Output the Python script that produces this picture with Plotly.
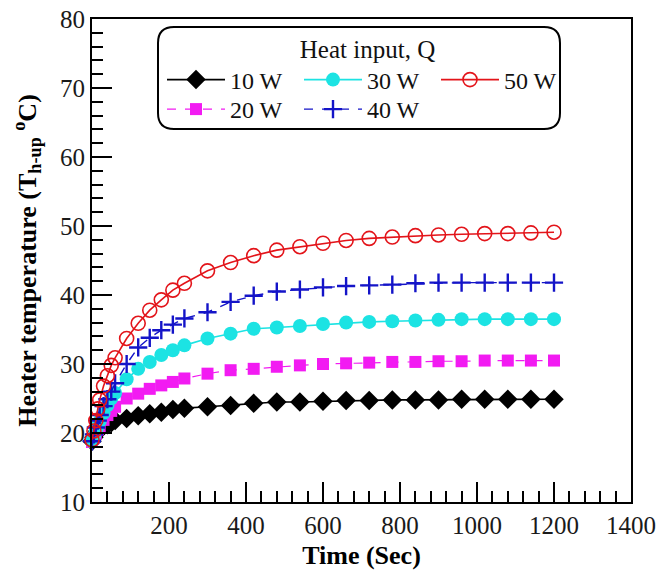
import plotly.graph_objects as go

time_s = [0, 5, 10, 15, 20, 30, 40, 50, 60, 90, 120, 150, 180, 210, 240, 300, 360, 420,
          480, 540, 600, 660, 720, 780, 840, 900, 960, 1020, 1080, 1140, 1200]

t_10w = [18.8, 19.4, 19.9, 20.3, 20.6, 21.0, 21.2, 21.5, 21.8, 22.1, 22.5, 22.8, 23.0, 23.4, 23.6, 23.8,
         24.0, 24.3, 24.5, 24.5, 24.6, 24.7, 24.7, 24.8, 24.8, 24.8, 24.9, 24.9, 24.9, 24.9, 24.9]
t_20w = [18.7, 19.3, 19.9, 20.5, 21.0, 21.9, 22.6, 23.2, 23.8, 25.0, 25.7, 26.4, 26.9, 27.4, 27.9, 28.6,
         29.1, 29.3, 29.6, 29.8, 30.0, 30.1, 30.2, 30.3, 30.3, 30.4, 30.4, 30.5, 30.5, 30.5, 30.5]
t_30w = [18.8, 19.5, 20.3, 21.0, 21.7, 22.9, 24.0, 25.0, 25.8, 27.8, 29.3, 30.3, 31.3, 32.0, 32.7, 33.7,
         34.4, 35.1, 35.3, 35.5, 35.8, 36.0, 36.1, 36.2, 36.3, 36.4, 36.5, 36.5, 36.5, 36.5, 36.5]
t_40w = [18.8, 19.8, 20.8, 21.8, 22.6, 23.9, 24.9, 26.0, 27.2, 30.0, 32.4, 33.8, 34.9, 35.7, 36.6, 37.5,
         39.0, 39.9, 40.5, 40.8, 41.1, 41.3, 41.4, 41.5, 41.7, 41.8, 41.8, 41.8, 41.8, 41.8, 41.8]
t_50w = [19.0, 20.3, 21.8, 23.5, 24.8, 26.8, 28.3, 29.8, 30.9, 33.7, 35.9, 37.8, 39.3, 40.7, 41.7, 43.5,
         44.7, 45.7, 46.5, 47.0, 47.5, 47.9, 48.2, 48.4, 48.6, 48.7, 48.8, 48.9, 48.9, 49.0, 49.1]

x_ticks = [200, 400, 600, 800, 1000, 1200, 1400]
y_ticks = [10, 20, 30, 40, 50, 60, 70, 80]

SERIF = "Liberation Serif, Times New Roman, serif"

series = [
    ("10 W", t_10w, dict(symbol="diamond", size=15, color="#000000"), dict(color="#000000", width=1.6, dash="solid"), "legend"),
    ("20 W", t_20w, dict(symbol="square", size=12, color="#F21BF2"), dict(color="#F21BF2", width=1.2, dash="dash"), "legend2"),
    ("30 W", t_30w, dict(symbol="circle", size=14, color="#1CE3E3"), dict(color="#1CE3E3", width=1.6, dash="solid"), "legend"),
    ("40 W", t_40w, dict(symbol="cross-thin-open", size=13, color="#1414C8", line=dict(width=2.4, color="#1414C8")), dict(color="#1414C8", width=1.4, dash="dash"), "legend2"),
    ("50 W", t_50w, dict(symbol="circle-open", size=14, color="#E3141A", line=dict(width=1.6, color="#E3141A")), dict(color="#E3141A", width=1.6, dash="solid"), "legend"),
]

fig = go.Figure()
for name, vals, mk, ln, lg in series:
    fig.add_trace(go.Scatter(x=time_s, y=vals, name=name, mode="lines+markers",
                             marker=mk, line=ln, legend=lg, cliponaxis=False))

W, H = 659, 578
ML, MR, MT, MB = 92, 28, 19, 76
PW, PH = W - ML - MR, H - MT - MB

def px2paper(px, py):
    return (px - ML) / PW, (H - MB - py) / PH

# rounded legend frame
x0, y1 = px2paper(158, 27)
x1, y0 = px2paper(560, 129)
rx, ry = 16 / PW, 16 / PH
path = (f"M{x0+rx},{y1} L{x1-rx},{y1} Q{x1},{y1} {x1},{y1-ry} L{x1},{y0+ry} Q{x1},{y0} {x1-rx},{y0} "
        f"L{x0+rx},{y0} Q{x0},{y0} {x0},{y0+ry} L{x0},{y1-ry} Q{x0},{y1} {x0+rx},{y1} Z")

lx1, ly1 = px2paper(162, 25)
lx2, ly2 = px2paper(162, 87)

axis_common = dict(
    showline=True, linecolor="#000000", linewidth=2.2, mirror=True,
    ticks="inside", ticklen=20, tickwidth=2, tickcolor="#000000",
    showgrid=False, zeroline=False, automargin=False,
    tickfont=dict(family=SERIF, size=25, color="#1a1a1a"),
)

leg_common = dict(xanchor="left", yanchor="top", orientation="h",
                  bgcolor="rgba(0,0,0,0)", borderwidth=0,
                  itemwidth=58, entrywidth=64, entrywidthmode="pixels",
                  font=dict(family=SERIF, size=24, color="#111111"))

fig.update_layout(
    width=W, height=H,
    margin=dict(l=ML, r=MR, t=MT, b=MB, autoexpand=False),
    paper_bgcolor="white", plot_bgcolor="white",
    font=dict(family=SERIF, color="#111111"),
    xaxis=dict(range=[0, 1400], tickvals=x_ticks, ticktext=[str(v) for v in x_ticks],
               minor=dict(dtick=40, tick0=0, ticks="inside", ticklen=11, tickwidth=2, tickcolor="#000000"),
               title=dict(text="<b>Time (Sec)</b>", font=dict(family=SERIF, size=26, color="#000000"), standoff=8),
               **axis_common),
    yaxis=dict(range=[10, 80], tickvals=y_ticks, ticktext=[str(v) for v in y_ticks],
               minor=dict(dtick=2, tick0=10, ticks="inside", ticklen=11, tickwidth=2, tickcolor="#000000"),
               title=dict(text="<b>Heater temperature (T<sub>h-up</sub> <sup>o</sup>C)</b>",
                          font=dict(family=SERIF, size=26, color="#000000"), standoff=16),
               **axis_common),
    legend=dict(x=lx1, y=ly1, **leg_common,
                title=dict(text="Heat input, Q", side="top center",
                           font=dict(family=SERIF, size=25, color="#111111"))),
    legend2=dict(x=lx2, y=ly2, **leg_common),
    shapes=[dict(type="path", xref="paper", yref="paper", path=path,
                 line=dict(color="#000000", width=2), fillcolor="rgba(0,0,0,0)", layer="above")],
)

fig.write_html("out.html")
